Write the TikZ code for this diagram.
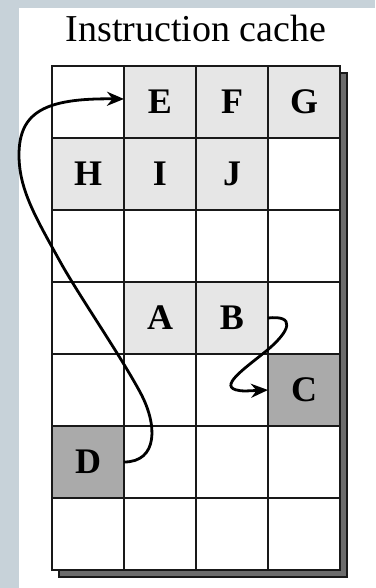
\documentclass[tikz,border=0pt]{standalone}
\usepackage{fontspec}
\setmainfont{Liberation Serif}
\usetikzlibrary{arrows.meta}
\definecolor{bgc}{RGB}{199,210,217}
\definecolor{lightc}{RGB}{230,230,230}
\definecolor{darkc}{RGB}{170,170,170}
\definecolor{linec}{RGB}{25,25,25}
\tikzset{
  cellbox/.style={draw=linec, line width=2.8pt, fill=white, minimum width=72pt, minimum height=72pt, inner sep=0pt, outer sep=0pt, font=\fontsize{36}{38}\selectfont\bfseries},
  lightcell/.style={cellbox, fill=lightc},
  darkcell/.style={cellbox, fill=darkc},
  flow/.style={line width=2.8pt, -{Stealth[length=17pt,width=14pt]}}
}
\begin{document}
\begin{tikzpicture}[x=1pt,y=-1pt]
\useasboundingbox (0,0) rectangle (375,588);
\fill[bgc] (0,0) rectangle (375,588);
\fill[white] (19,8) rectangle (375,588);
\node[anchor=base, font=\fontsize{38}{40}\selectfont] (title) at (196,42) {Instruction cache};
% shadow
\draw[linec, line width=1.6pt, fill=gray!85!black] (59,73) rectangle (347,577);
% grid cells
\foreach \r in {0,...,6}{
  \foreach \c in {0,...,3}{
    \node[cellbox] (c\r\c) at ({88+72*\c},{102+72*\r}) {};
  }
}
\node[lightcell] (E) at (c01) {E};
\node[lightcell] (F) at (c02) {F};
\node[lightcell] (G) at (c03) {G};
\node[lightcell] (H) at (c10) {H};
\node[lightcell] (I) at (c11) {I};
\node[lightcell] (J) at (c12) {J};
\node[lightcell] (A) at (c31) {A};
\node[lightcell] (B) at (c32) {B};
\node[darkcell] (C) at (c43) {C};
\node[darkcell] (D) at (c50) {D};
% arrows
\draw[flow] (D.east) .. controls +(34,0) and (158,425) .. (140,392)
  .. controls (120,355) and (82,300) .. (62,265)
  .. controls (36,218) and (19,190) .. (19,155)
  .. controls (19,112) and (45,98) .. ([yshift=3pt]E.west);
\draw[flow] (B.east) .. controls +(27,-3) and (292,330) .. (265,352)
  .. controls (240,372) and (214,390) .. (245,391) -- (C.west);
\end{tikzpicture}
\end{document}
